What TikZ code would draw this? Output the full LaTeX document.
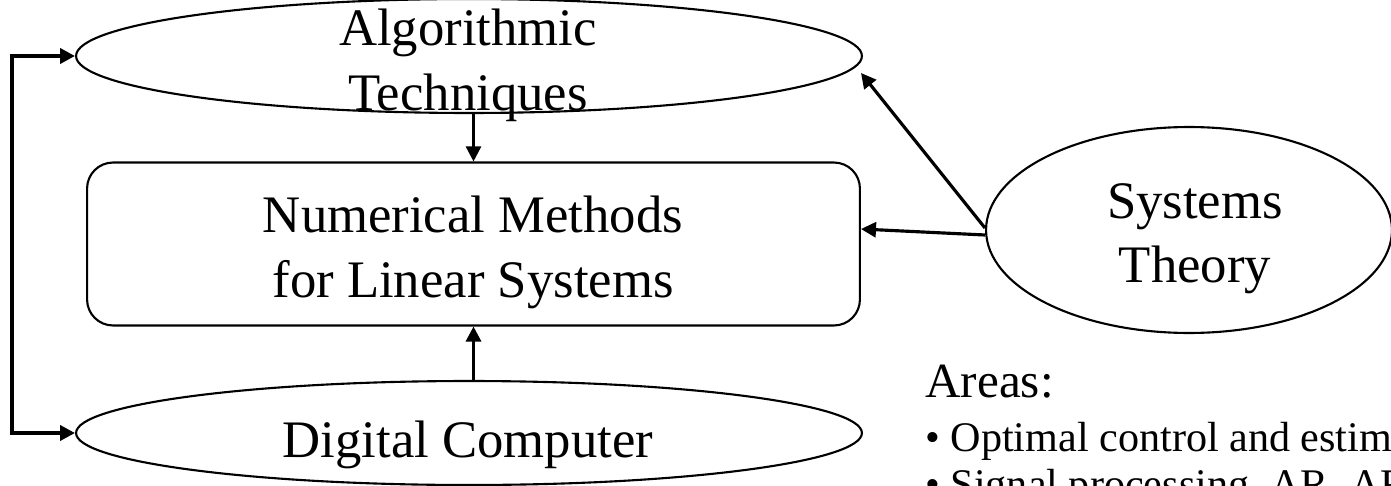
\documentclass[tikz,border=0pt]{standalone}
\usepackage{fontspec}
\setmainfont{Liberation Serif}
\usetikzlibrary{shapes.geometric,arrows.meta,calc}

\tikzset{
  outline/.style={draw, line width=1.2pt},
  oval/.style={outline, ellipse, inner sep=0pt},
  panel/.style={outline, rectangle, rounded corners=0.52cm, inner sep=0pt,
                minimum width=15.46cm, minimum height=3.26cm},
  big/.style={inner sep=0pt, anchor=base, font=\fontsize{30}{36}\selectfont},
  head/.style={inner sep=0pt, anchor=base west, font=\fontsize{28}{34}\selectfont},
  item/.style={inner sep=0pt, anchor=base west, font=\fontsize{24}{29}\selectfont},
  tip/.style={-{Triangle[length=0.3cm,width=0.3cm]}},
  arr/.style={tip, line width=1.8pt},
  thinarr/.style={tip, line width=1.4pt},
  loopback/.style={line width=2.2pt,
                   {Triangle[length=0.3cm,width=0.3cm]}-{Triangle[length=0.3cm,width=0.3cm]}}
}

\begin{document}
\begin{tikzpicture}[x=0.02cm, y=-0.02cm]
  \useasboundingbox (0,0) rectangle (1391,486);
  \clip (0,0) rectangle (1391,486);

  % shapes
  \node[oval, minimum width=15.72cm, minimum height=2.28cm] (alg) at (469,56) {};
  \node[panel] (num) at (473.5,244) {};
  \node[oval, minimum width=15.72cm, minimum height=2.08cm] (dig) at (469,433) {};
  \node[oval, minimum width=8.12cm, minimum height=4.12cm] (sys) at (1189,230) {};

  % labels
  \node[big] (algA) at (468,46) {Algorithmic};
  \node[big] (algB) at (468,111) {Techniques};
  \node[big] (numA) at (473,232) {Numerical Methods};
  \node[big] (numB) at (473,297) {for Linear Systems};
  \node[big] (digA) at (468,457) {Digital Computer};
  \node[big] (sysA) at (1195,218) {Systems};
  \node[big] (sysB) at (1195,282) {Theory};

  \node[head] (areas) at (925,397) {Areas:};
  \node[item] (itemA) at (925,451) {• Optimal control and estimation};
  \node[item] (itemB) at (925,498) {• Signal processing, AR, ARMA};

  % connectors
  \draw[thinarr] (alg.south -| num.north) -- (num.north);
  \draw[arr] (dig.north -| num.south) -- (num.south);
  \coordinate (side) at (12,245);
  \draw[loopback] (alg.west) -| (side) |- (dig.west);
  \draw[arr] ([yshift=-0.1cm]sys.west) -- ([yshift=0.3cm]num.east);
  \draw[arr] ([yshift=0.04cm]sys.west) -- ([xshift=-0.04cm,yshift=-0.34cm]alg.east);
\end{tikzpicture}
\end{document}
